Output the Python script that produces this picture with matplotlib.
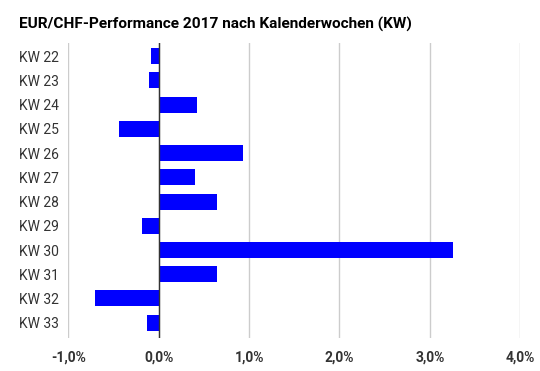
import numpy as np
import matplotlib.pyplot as plt
from matplotlib.ticker import FuncFormatter

# Daten: Wochenperformance EUR/CHF in Prozent
weeks = ['KW 22', 'KW 23', 'KW 24', 'KW 25', 'KW 26', 'KW 27',
         'KW 28', 'KW 29', 'KW 30', 'KW 31', 'KW 32', 'KW 33']
perf = [-0.08, -0.11, 0.42, -0.44, 0.93, 0.40,
        0.64, -0.18, 3.26, 0.65, -0.70, -0.13]
xticks = [-1.0, 0.0, 1.0, 2.0, 3.0, 4.0]

plt.rcParams['font.family'] = ['Roboto', 'DejaVu Sans']

fig = plt.figure(figsize=(5.4, 3.71), dpi=100)
ax = fig.add_axes([0.1265, 0.089, 0.837, 0.795])

y = np.arange(len(weeks))
ax.barh(y, perf, height=0.66, color='#0000ff', zorder=3)

ax.set_xlim(-1.0, 4.0)
ax.set_ylim(len(weeks) - 0.37, -0.54)
ax.set_xticks(xticks)
ax.xaxis.set_major_formatter(FuncFormatter(lambda v, p: f'{v:.1f}%'.replace('.', ',')))
ax.set_yticks(y)
ax.set_yticklabels(weeks)

ax.grid(axis='x', color='#cccccc', linewidth=1, zorder=0)
ax.axvline(0, color='#333333', linewidth=1, zorder=4)
for s in ax.spines.values():
    s.set_visible(False)

ax.tick_params(axis='both', length=0)
ax.tick_params(axis='y', labelsize=10, labelcolor='#333333', pad=7)
ax.tick_params(axis='x', labelsize=10, labelcolor='#333333', pad=9)
for lbl in ax.get_xticklabels():
    lbl.set_fontweight('bold')

fig.text(0.035, 0.935, 'EUR/CHF-Performance 2017 nach Kalenderwochen (KW)',
         fontsize=11.1, fontweight='bold', color='#000000', va='center', ha='left')

fig.savefig('out.png', dpi=100, facecolor='white')
